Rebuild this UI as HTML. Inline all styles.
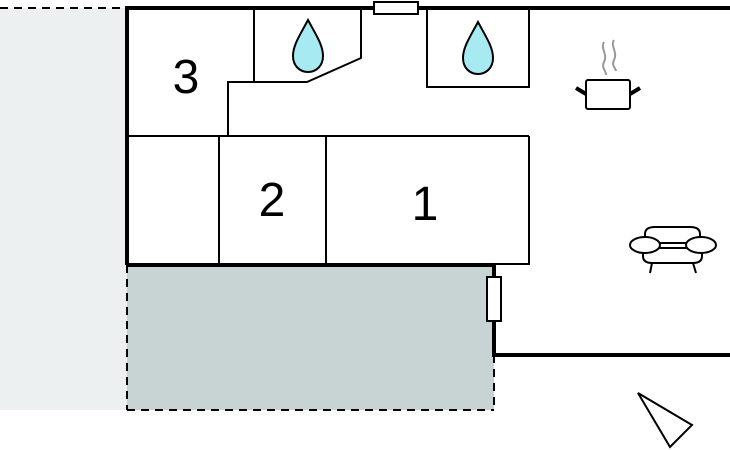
<!DOCTYPE html>
<html><head><style>body{margin:0;background:#fff}svg{display:block}</style></head><body>
<svg width="730" height="450" viewBox="0 0 730 450" xmlns="http://www.w3.org/2000/svg">
<rect x="0" y="8" width="127" height="402" fill="#ecf0f0"/>
<rect x="127" y="265" width="367" height="145" fill="#c8d3d4"/>
<g stroke="#000" stroke-width="2" stroke-dasharray="8,6" fill="none">
<line x1="0" y1="8" x2="127" y2="8"/>
<line x1="127" y1="265" x2="127" y2="410"/>
<line x1="127" y1="410" x2="494" y2="410"/>
<line x1="494" y1="355" x2="494" y2="410"/>
</g>
<g stroke="#000" stroke-width="2" fill="none">
<line x1="254" y1="8" x2="254" y2="82"/>
<polyline points="228,136 228,82 307,82 361,58 361,8"/>
<polyline points="427,8 427,87 529,87 529,8"/>
<line x1="127" y1="136" x2="529" y2="136"/>
<polyline points="529,136 529,264 494,264"/>
<line x1="219" y1="136" x2="219" y2="265"/>
<line x1="326" y1="136" x2="326" y2="265"/>
</g>
<g stroke="#000" stroke-width="4" fill="none">
<polyline points="127,265 127,8 730,8"/>
<polyline points="127,265 494,265 494,355 730,355"/>
</g>
<rect x="374" y="2" width="44" height="12" fill="#fff" stroke="#000" stroke-width="2"/>
<rect x="487" y="277" width="14" height="44" fill="#fff" stroke="#000" stroke-width="2"/>
<g fill="#a8eaf2" stroke="#000" stroke-width="2">
<path d="M308,20 C300,35 293,45 293,56 C293,66 300,72 308,72 C316,72 323,66 323,56 C323,45 316,35 308,20Z"/>
<path d="M478,22 C470,37 463,47 463,58 C463,68 470,74 478,74 C486,74 493,68 493,58 C493,47 486,37 478,22Z"/>
</g>
<g font-family="Liberation Sans, sans-serif" font-size="48" text-anchor="middle" fill="#000">
<text x="186" y="93">3</text>
<text x="272" y="216">2</text>
<text x="425" y="220">1</text>
</g>
<g stroke="#999" stroke-width="2" fill="none">
<path d="M604,42 C600,48 608,54 604,62 C601,68 606,70 606,75"/>
<path d="M614,40 C610,46 618,52 614,60 C611,66 616,68 616,71"/>
</g>
<rect x="586" y="80" width="44" height="29" rx="2" fill="#fff" stroke="#000" stroke-width="2"/>
<g stroke="#000" stroke-width="4"><line x1="576" y1="88" x2="586" y2="94"/><line x1="640" y1="88" x2="630" y2="94"/></g>
<g stroke="#000" stroke-width="2" fill="#fff">
<path d="M645,243 L645,234 Q645,227 655,227 L690,227 Q700,227 700,234 L700,243Z"/>
<path d="M643,248 L643,256 Q643,263 652,263 L693,263 Q702,263 702,256 L702,248Z"/>
<line x1="652" y1="263" x2="650" y2="273"/><line x1="693" y1="263" x2="696" y2="273"/>
<ellipse cx="645" cy="245" rx="15" ry="8"/>
<ellipse cx="701" cy="245" rx="15" ry="8"/>
</g>
<polygon points="638,393 692,425 670,447" fill="#fff" stroke="#000" stroke-width="2"/>
</svg>
</body></html>
